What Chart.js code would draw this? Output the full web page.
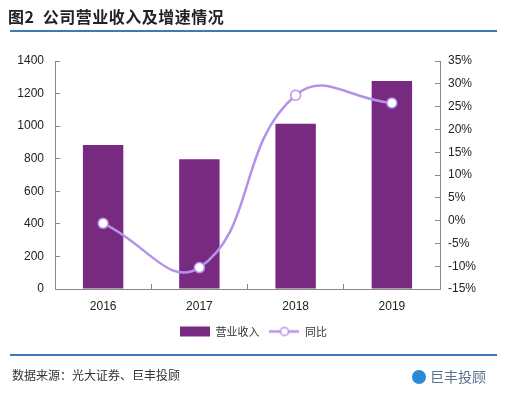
<!DOCTYPE html>
<html>
<head>
<meta charset="utf-8">
<script src="https://cdn.jsdelivr.net/npm/chart.js@4/dist/chart.umd.min.js"></script>
<style>
  html, body { margin:0; padding:0; background:#fff; }
  #wrap { position:relative; width:507px; height:394px; overflow:hidden; }
  #c { position:absolute; left:0; top:0; }
  .title { position:absolute; left:8px; top:4px; font-family:"Noto Sans CJK SC"; font-weight:bold; font-size:16px; color:#222; letter-spacing:0.5px; }
  .rule { position:absolute; left:10px; width:487px; height:2px; background:#3d78b8; }
  .src { position:absolute; left:12px; top:366px; font-family:"Noto Sans CJK SC"; font-size:12px; color:#333; }
  .logo { position:absolute; left:412px; top:366px; font-family:"Noto Sans CJK SC"; font-size:14px; color:#5b6f8e; }
  .logo span.dot { display:inline-block; width:14px; height:14px; border-radius:7px; background:#2b8ad6; vertical-align:-2px; margin-right:4px; }
</style>
</head>
<body>
<div id="wrap">
  <canvas id="c" width="507" height="394"></canvas>
  <div class="title">图2&nbsp; 公司营业收入及增速情况</div>
  <div class="rule" style="top:30px"></div>
  <div class="rule" style="top:354px"></div>
  <div class="src">数据来源：光大证券、巨丰投顾</div>
  <div class="logo"><span class="dot"></span>巨丰投顾</div>
</div>
<script>
const categories = ['2016', '2017', '2018', '2019'];
const revenue = [884, 796, 1015, 1277];
const growth = [-0.6, -10.3, 27.5, 25.8];
const seriesNames = ['营业收入', '同比'];

const barColor = '#782a80';
const lineColor = '#b592ea';

function legendImg(kind) {
  const c = document.createElement('canvas');
  c.width = 30; c.height = 12;
  const g = c.getContext('2d');
  if (kind === 'bar') {
    g.fillStyle = barColor;
    g.fillRect(0, 1, 30, 10);
  } else {
    g.strokeStyle = lineColor; g.lineWidth = 2.5;
    g.beginPath(); g.moveTo(0, 6); g.lineTo(30, 6); g.stroke();
    g.fillStyle = '#fff'; g.lineWidth = 1.5;
    g.beginPath(); g.arc(15, 6, 4, 0, Math.PI * 2); g.fill(); g.stroke();
  }
  return c;
}
const imgs = [legendImg('bar'), legendImg('line')];

const tickFont = { family: 'Liberation Sans', size: 12 };

new Chart(document.getElementById('c'), {
  type: 'bar',
  data: {
    labels: categories,
    datasets: [
      { label: seriesNames[0], data: revenue, backgroundColor: barColor, yAxisID: 'y', order: 1,
        barPercentage: 0.42, categoryPercentage: 1.0 },
      { label: seriesNames[1], type: 'line', data: growth, yAxisID: 'y1', order: 0,
        borderColor: lineColor, borderWidth: 2.5, tension: 0.45, fill: false,
        pointRadius: 5, pointBackgroundColor: '#fff', pointBorderColor: lineColor, pointBorderWidth: 1.5 }
    ]
  },
  options: {
    responsive: false,
    animation: false,
    devicePixelRatio: 1,
    layout: { padding: { top: 61, left: 0, right: 0, bottom: 47 } },
    plugins: {
      tooltip: { enabled: false },
      legend: {
        position: 'bottom',
        labels: {
          usePointStyle: true,
          pointStyleWidth: 30,
          padding: 10,
          font: { family: 'Noto Sans CJK SC', size: 11 },
          color: '#333',
          generateLabels: (chart) => chart.data.datasets.map((ds, i) => ({
            text: ds.label, pointStyle: imgs[i], datasetIndex: i,
            fillStyle: 'transparent', strokeStyle: 'transparent', lineWidth: 0, fontColor: '#333'
          }))
        }
      }
    },
    scales: {
      x: {
        grid: { display: true, drawOnChartArea: false, drawTicks: true, tickLength: -5, color: '#888', offset: true },
        border: { display: true, color: '#888', width: 1 },
        ticks: { font: tickFont, color: '#222', padding: 15 },
        afterFit: (s) => { s.height = 27; }
      },
      y: {
        position: 'left', min: 0, max: 1400,
        grid: { display: true, drawOnChartArea: false, drawTicks: true, tickLength: -5, color: '#888' },
        border: { display: true, color: '#888', width: 1 },
        ticks: { stepSize: 200, font: tickFont, color: '#222', padding: 16, callback: (v) => String(v) },
        afterFit: (s) => { s.width = 55; }
      },
      y1: {
        position: 'right', min: -15, max: 35,
        grid: { display: true, drawOnChartArea: false, drawTicks: true, tickLength: -5, color: '#888' },
        border: { display: true, color: '#888', width: 1 },
        ticks: { stepSize: 5, font: tickFont, color: '#222', padding: 13, callback: (v) => v + '%' },
        afterFit: (s) => { s.width = 67; }
      }
    }
  }
});
</script>
</body>
</html>
